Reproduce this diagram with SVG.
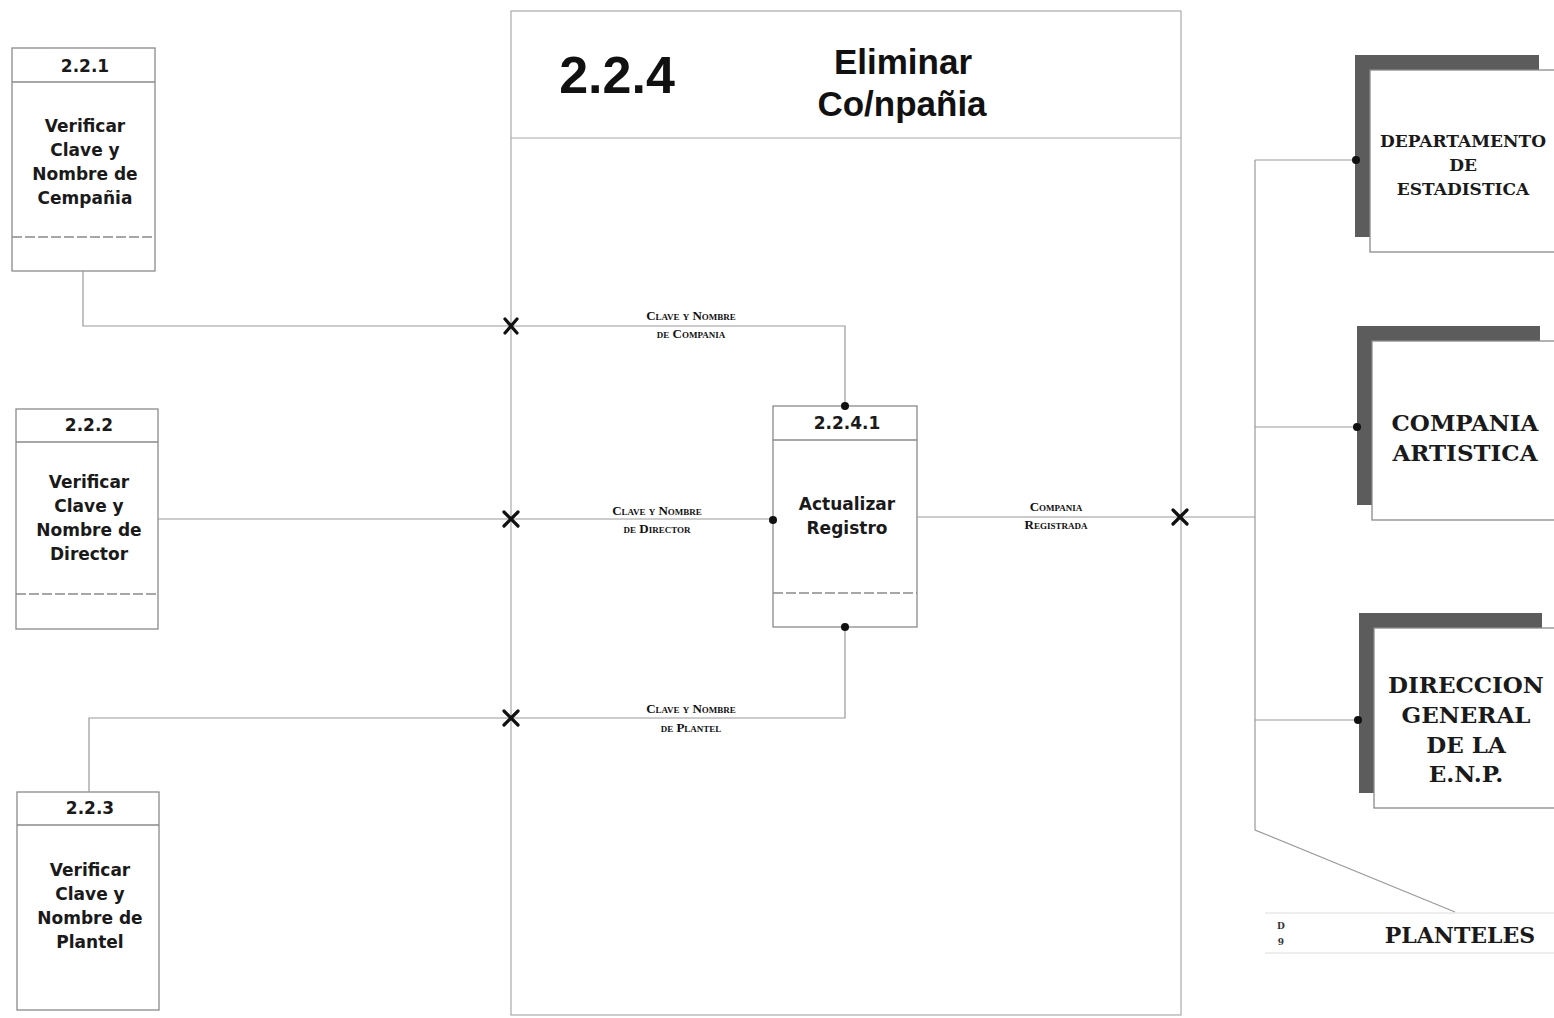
<svg xmlns="http://www.w3.org/2000/svg" width="1554" height="1018" viewBox="0 0 1554 1018">
<style>
.bx{fill:#fff;stroke:#8a8a8a;stroke-width:1.3}
.sep{stroke:#8a8a8a;stroke-width:1.3}
.ln{fill:none;stroke:#999;stroke-width:1.2}
.fr{fill:none;stroke:#aaa;stroke-width:1.2}
.t{font-family:"DejaVu Sans",sans-serif;font-weight:bold;font-size:17px;fill:#1a1a1a;text-anchor:middle}
.id{font-family:"DejaVu Sans",sans-serif;font-weight:bold;font-size:17px;fill:#1a1a1a;text-anchor:middle}
.lb{font-family:"Liberation Serif",serif;font-weight:bold;font-size:13px;font-variant:small-caps;fill:#111;text-anchor:middle}
.ent{font-family:"DejaVu Serif",serif;font-weight:bold;fill:#1a1a1a;text-anchor:middle}
.sh{fill:#5c5c5c}
.x{stroke:#111;stroke-width:3.2;stroke-linecap:round}
.dot{fill:#111}
</style>

<g id="frame-2.2.4">
<rect class="fr" x="511" y="11" width="670" height="1004"/>
<line class="fr" x1="511" y1="138" x2="1181" y2="138"/>
<text x="617" y="93" font-family="Liberation Sans,Arial,sans-serif" font-weight="bold" font-size="52" fill="#111" text-anchor="middle">2.2.4</text>
<text x="903" y="74" font-family="Liberation Sans,Arial,sans-serif" font-weight="bold" font-size="35" fill="#111" text-anchor="middle">Eliminar</text>
<text x="902" y="116" font-family="Liberation Sans,Arial,sans-serif" font-weight="bold" font-size="35" fill="#111" text-anchor="middle">Co/npañia</text>
</g>

<g id="p221">
<rect class="bx" x="12" y="48" width="143" height="223"/>
<line class="sep" x1="12" y1="82" x2="155" y2="82"/>
<line class="sep" x1="12" y1="237" x2="155" y2="237" stroke-dasharray="10 3"/>
<text class="id" x="85" y="72">2.2.1</text>
<text class="t" x="85" y="132">Verificar</text>
<text class="t" x="85" y="156">Clave y</text>
<text class="t" x="85" y="180">Nombre de</text>
<text class="t" x="85" y="204">Cempañia</text>
</g>

<g id="p222">
<rect class="bx" x="16" y="409" width="142" height="220"/>
<line class="sep" x1="16" y1="442" x2="158" y2="442"/>
<line class="sep" x1="16" y1="594" x2="158" y2="594" stroke-dasharray="10 3"/>
<text class="id" x="89" y="431">2.2.2</text>
<text class="t" x="89" y="488">Verificar</text>
<text class="t" x="89" y="512">Clave y</text>
<text class="t" x="89" y="536">Nombre de</text>
<text class="t" x="89" y="560">Director</text>
</g>

<g id="p223">
<rect class="bx" x="17" y="792" width="142" height="218" stroke="#bbb"/>
<line class="sep" x1="17" y1="825" x2="159" y2="825"/>
<text class="id" x="90" y="814">2.2.3</text>
<text class="t" x="90" y="876">Verificar</text>
<text class="t" x="90" y="900">Clave y</text>
<text class="t" x="90" y="924">Nombre de</text>
<text class="t" x="90" y="948">Plantel</text>
</g>

<g id="p2241">
<rect class="bx" x="773" y="406" width="144" height="221"/>
<line class="sep" x1="773" y1="440" x2="917" y2="440"/>
<line class="sep" x1="773" y1="593" x2="917" y2="593" stroke-dasharray="10 3"/>
<text class="id" x="847" y="429">2.2.4.1</text>
<text class="t" x="847" y="510">Actualizar</text>
<text class="t" x="847" y="534">Registro</text>
</g>

<g id="e-departamento">
<rect class="sh" x="1355" y="55" width="184" height="182"/>
<rect class="bx" x="1370" y="70" width="186" height="182" stroke="#bbb"/>
<text class="ent" x="1463" y="147" font-size="17">DEPARTAMENTO</text>
<text class="ent" x="1463" y="171" font-size="17">DE</text>
<text class="ent" x="1463" y="195" font-size="17">ESTADISTICA</text>
</g>

<g id="e-compania">
<rect class="sh" x="1357" y="326" width="183" height="179"/>
<rect class="bx" x="1372" y="341" width="184" height="179" stroke="#bbb"/>
<text class="ent" x="1465" y="431" font-size="23">COMPANIA</text>
<text class="ent" x="1465" y="461" font-size="23">ARTISTICA</text>
</g>

<g id="e-direccion">
<rect class="sh" x="1359" y="613" width="183" height="180"/>
<rect class="bx" x="1374" y="628" width="182" height="180" stroke="#bbb"/>
<text class="ent" x="1466" y="693" font-size="23">DIRECCION</text>
<text class="ent" x="1466" y="723" font-size="23">GENERAL</text>
<text class="ent" x="1466" y="753" font-size="23">DE LA</text>
<text class="ent" x="1466" y="782" font-size="23">E.N.P.</text>
</g>

<g id="ds-planteles">
<line x1="1265" y1="913" x2="1554" y2="913" stroke="#ddd" stroke-width="1"/>
<line x1="1265" y1="953" x2="1554" y2="953" stroke="#ddd" stroke-width="1"/>
<text x="1281" y="929" font-family="DejaVu Serif,serif" font-weight="bold" font-size="9" fill="#333" text-anchor="middle">D</text>
<text x="1281" y="945" font-family="DejaVu Serif,serif" font-weight="bold" font-size="9" fill="#333" text-anchor="middle">9</text>
<text class="ent" x="1460" y="943" font-size="22">PLANTELES</text>
</g>

<g id="connectors">
<polyline class="ln" points="83,271 83,326 845,326 845,406"/>
<line class="ln" x1="158" y1="519" x2="773" y2="519"/>
<polyline class="ln" points="845,627 845,718 89,718 89,792"/>
<line class="ln" x1="917" y1="517" x2="1255" y2="517"/>
<polyline class="ln" points="1255,160 1255,830 1455,912"/>
<line class="ln" x1="1255" y1="160" x2="1356" y2="160"/>
<line class="ln" x1="1255" y1="427" x2="1357" y2="427"/>
<line class="ln" x1="1255" y1="720" x2="1358" y2="720"/>
<circle class="dot" cx="845" cy="406" r="4"/>
<circle class="dot" cx="773" cy="520" r="4"/>
<circle class="dot" cx="845" cy="627" r="4"/>
<circle class="dot" cx="1356" cy="160" r="4"/>
<circle class="dot" cx="1357" cy="427" r="4"/>
<circle class="dot" cx="1358" cy="720" r="4"/>
<g class="x">
<line x1="505" y1="319" x2="517" y2="333"/><line x1="517" y1="319" x2="505" y2="333"/>
<line x1="504" y1="512" x2="518" y2="526"/><line x1="518" y1="512" x2="504" y2="526"/>
<line x1="504" y1="711" x2="518" y2="725"/><line x1="518" y1="711" x2="504" y2="725"/>
<line x1="1173" y1="510" x2="1187" y2="524"/><line x1="1187" y1="510" x2="1173" y2="524"/>
</g>
<text class="lb" x="691" y="320">Clave y Nombre</text>
<text class="lb" x="691" y="338">de Compania</text>
<text class="lb" x="657" y="515">Clave y Nombre</text>
<text class="lb" x="657" y="533">de Director</text>
<text class="lb" x="691" y="713">Clave y Nombre</text>
<text class="lb" x="691" y="732">de Plantel</text>
<text class="lb" x="1056" y="511">Compania</text>
<text class="lb" x="1056" y="529">Registrada</text>
</g>
</svg>
